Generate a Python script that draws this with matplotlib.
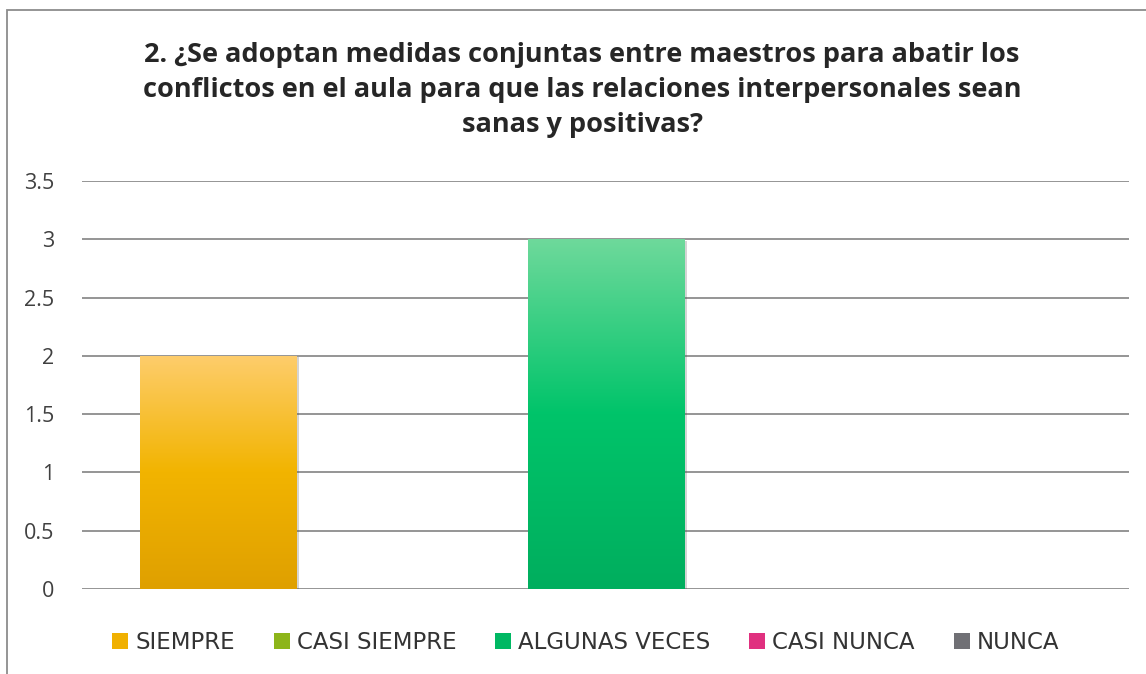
import numpy as np
import matplotlib
matplotlib.use("Agg")
import matplotlib.pyplot as plt
import matplotlib.patheffects as pe
from matplotlib.colors import LinearSegmentedColormap
from matplotlib.patches import Patch, Rectangle

# data
categories = ["SIEMPRE", "CASI SIEMPRE", "ALGUNAS VECES", "CASI NUNCA", "NUNCA"]
values = [2, 0, 3, 0, 0]
title = ("2. ¿Se adoptan medidas conjuntas entre maestros para abatir los\n"
         "conflictos en el aula para que las relaciones interpersonales sean\n"
         "sanas y positivas?")
yticks = [0, 0.5, 1, 1.5, 2, 2.5, 3, 3.5]

# gradient colours (bottom, middle, top) per series
gradients = [
    ["#dfa000", "#f2b400", "#fecd6c"],
    ["#7fa818", "#95c11f", "#bcdb6e"],
    ["#00ae5e", "#00c46a", "#6ed99b"],
    ["#d21f73", "#e83e8c", "#f286b8"],
    ["#5f5f64", "#77777c", "#a3a3a8"],
]
legend_colors = ["#f0b000", "#8db51a", "#00b863", "#e0307f", "#707075"]

plt.rcParams['font.family'] = ['Open Sans', 'DejaVu Sans']

fig = plt.figure(figsize=(11.46, 6.74), dpi=100)
ax = fig.add_axes([0.0716, 0.1261, 0.9136, 0.6053])

x = np.arange(len(categories))
width = 0.804
bars = ax.bar(x, values, width=width, color="none", edgecolor="none", zorder=3)

for b, g, v in zip(bars, gradients, values):
    if v <= 0:
        continue
    cmap = LinearSegmentedColormap.from_list("g", g)
    grad = np.linspace(0, 1, 256).reshape(-1, 1)
    bx, by = b.get_x(), b.get_y()
    bw, bh = b.get_width(), b.get_height()
    # soft shadow
    sh = Rectangle((bx, by), bw, bh, facecolor="white", edgecolor="none", zorder=2.5,
                   path_effects=[pe.SimplePatchShadow(offset=(2, -1), alpha=0.25, shadow_rgbFace="#555555")])
    ax.add_patch(sh)
    im = ax.imshow(grad, cmap=cmap, origin="lower", aspect="auto",
                   extent=[bx, bx + bw, by, by + bh], zorder=3)
    im.set_clip_path(b)

ax.set_xlim(-0.70, 4.69)
ax.set_ylim(0, 3.5)
ax.set_yticks(yticks)
ax.set_yticklabels([f"{t:g}" for t in yticks], fontsize=15.5, color="#404040")
ax.set_xticks([])
ax.tick_params(axis="y", length=0, pad=20)
ax.yaxis.grid(True, color="#8c8c8c", linewidth=1.3, zorder=0)
ax.set_axisbelow(True)
for s in ax.spines.values():
    s.set_visible(False)

fig.text(0.508, 0.866, title, ha="center", va="center", fontsize=19.5,
         fontweight="bold", color="#262626", linespacing=1.45)

handles = [Patch(facecolor=c, edgecolor="none") for c in legend_colors]
fig.legend(handles, categories, loc="center", bbox_to_anchor=(0.5110, 0.046), ncol=5,
           frameon=False, prop={"family": "DejaVu Sans", "size": 16.5},
           handlelength=0.7, handleheight=0.7,
           handletextpad=0.3, columnspacing=1.7, labelcolor="#333333")

# outer chart border
fig.patches.append(Rectangle((6.5 / 1146, -0.1), 1.2, 1.1 - 10.5 / 674, transform=fig.transFigure,
                             fill=False, edgecolor="#8c8c8c", linewidth=1.3))

fig.savefig("out.png", dpi=100)
